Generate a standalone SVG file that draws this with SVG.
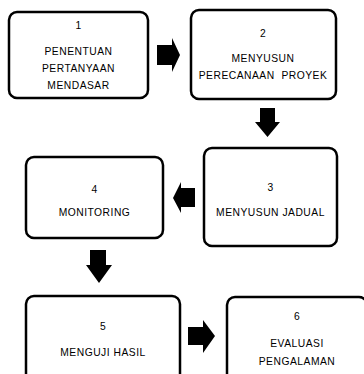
<svg xmlns="http://www.w3.org/2000/svg" width="364" height="374" viewBox="0 0 364 374">
  <style>
    .box { fill: #ffffff; stroke: #000000; stroke-width: 2.5; }
    .lbl { font-family: "Liberation Sans", Arial, sans-serif; font-size: 10.3px; fill: #000000; text-anchor: middle; letter-spacing: 0.5px; white-space: pre; }
    .arr { fill: #000000; }
  </style>
  <rect width="364" height="374" fill="#ffffff"/>

  <g id="node1">
    <rect class="box" x="9" y="12" width="139" height="86" rx="8"/>
    <text class="lbl" x="78.5" y="29">1</text>
    <text class="lbl" x="78.5" y="55">PENENTUAN</text>
    <text class="lbl" x="78.5" y="72">PERTANYAAN</text>
    <text class="lbl" x="78.5" y="89">MENDASAR</text>
  </g>

  <g id="node2">
    <rect class="box" x="191" y="10" width="145" height="89" rx="8"/>
    <text class="lbl" x="263" y="37">2</text>
    <text class="lbl" x="263" y="62">MENYUSUN</text>
    <text class="lbl" x="263" y="79">PERECANAAN  PROYEK</text>
  </g>

  <g id="node3">
    <rect class="box" x="204" y="148" width="133" height="98" rx="8"/>
    <text class="lbl" x="270.5" y="191">3</text>
    <text class="lbl" x="270.5" y="216">MENYUSUN JADUAL</text>
  </g>

  <g id="node4">
    <rect class="box" x="26" y="157" width="137" height="81" rx="8"/>
    <text class="lbl" x="94.5" y="193">4</text>
    <text class="lbl" x="94.5" y="216">MONITORING</text>
  </g>

  <g id="node5">
    <rect class="box" x="26" y="296" width="154" height="100" rx="8"/>
    <text class="lbl" x="103" y="330">5</text>
    <text class="lbl" x="103" y="356">MENGUJI HASIL</text>
  </g>

  <g id="node6">
    <rect class="box" x="227" y="297" width="140" height="100" rx="8"/>
    <text class="lbl" x="297" y="320">6</text>
    <text class="lbl" x="297" y="347">EVALUASI</text>
    <text class="lbl" x="297" y="365">PENGALAMAN</text>
  </g>

  <g id="connectors">
    <polygon class="arr" points="157,45 172,45 172,38 180,55 172,72 172,65 157,65"/>
    <polygon class="arr" points="260,108 275,108 275,122 280,122 267.5,137 255,122 260,122"/>
    <polygon class="arr" points="195,188 181,188 181,182 173,198 181,213 181,207 195,207"/>
    <polygon class="arr" points="90,250 106,250 106,265 112,265 99,283 86,265 90,265"/>
    <polygon class="arr" points="188,327 203,327 203,320 215,336 203,353 203,345 188,345"/>
  </g>
</svg>
